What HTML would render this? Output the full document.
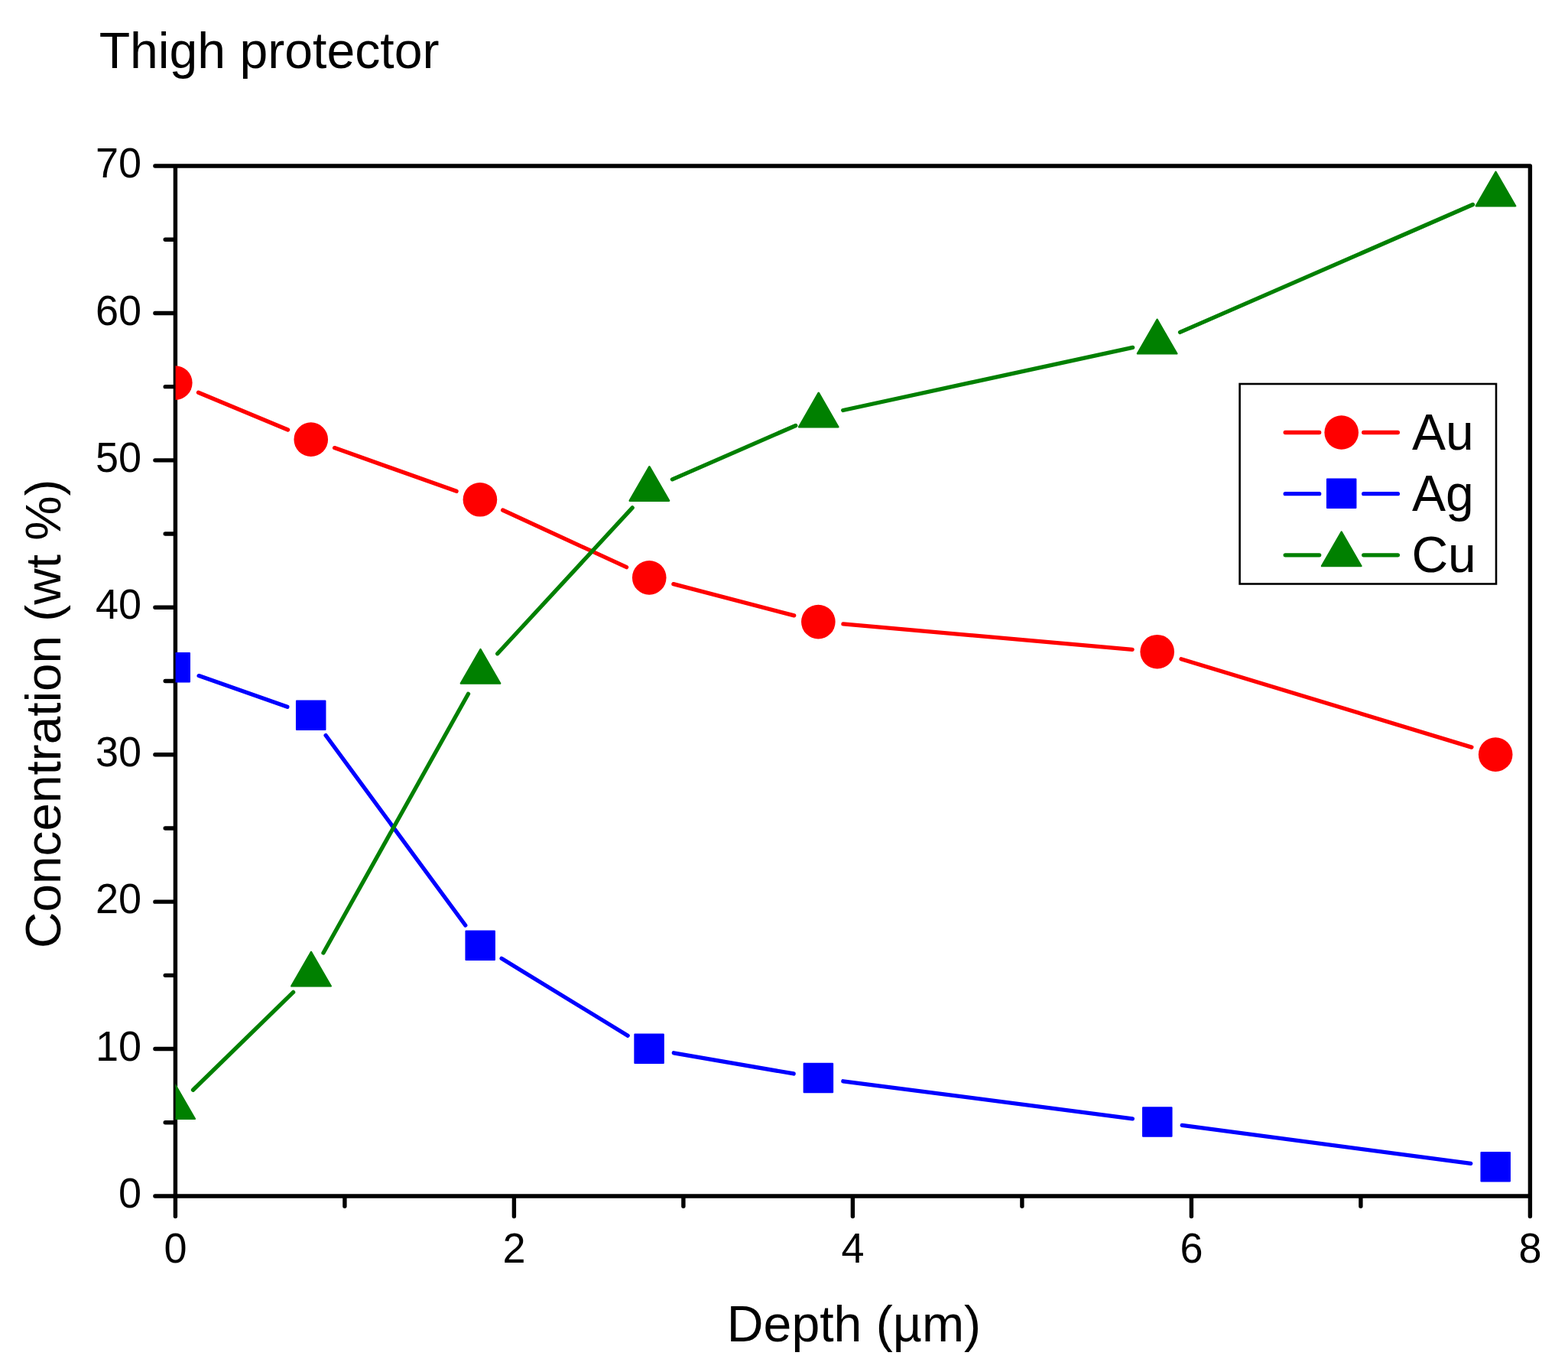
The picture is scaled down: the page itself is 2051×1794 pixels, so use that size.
<!DOCTYPE html>
<html><head><meta charset="utf-8"><title>Thigh protector</title>
<style>
html,body{margin:0;padding:0;background:#fff;}
body{width:2051px;height:1794px;overflow:hidden;}
svg{display:block;}
text{font-family:"Liberation Sans",Arial,sans-serif;fill:#000;}
</style></head><body>
<svg width="2051" height="1794" viewBox="0 0 2051 1794">
<rect width="2051" height="1794" fill="#fff"/>
<defs><clipPath id="pc"><rect x="229.60" y="177.0" width="1812.00" height="1427.0"/></clipPath></defs>
<text x="129.7" y="89.1" font-size="66.15">Thigh protector</text>
<path d="M202.90 217.00L2001.40 217.00L2001.40 1590.50M229.40 217.00L229.40 1590.50M202.90 1564.00L2001.40 1564.00M202.90 1371.57L229.40 1371.57M202.90 1179.14L229.40 1179.14M202.90 986.71L229.40 986.71M202.90 794.29L229.40 794.29M202.90 601.86L229.40 601.86M202.90 409.43L229.40 409.43M216.20 1467.79L229.40 1467.79M216.20 1275.36L229.40 1275.36M216.20 1082.93L229.40 1082.93M216.20 890.50L229.40 890.50M216.20 698.07L229.40 698.07M216.20 505.64L229.40 505.64M216.20 313.21L229.40 313.21M672.40 1564.00L672.40 1590.50M1115.40 1564.00L1115.40 1590.50M1558.40 1564.00L1558.40 1590.50M450.90 1564.00L450.90 1577.20M893.90 1564.00L893.90 1577.20M1336.90 1564.00L1336.90 1577.20M1779.90 1564.00L1779.90 1577.20" fill="none" stroke="#000" stroke-width="5.4" stroke-linecap="round" stroke-linejoin="round"/>
<text transform="translate(185.1 1579.20) scale(1 1.028)" font-size="54" text-anchor="end">0</text>
<text transform="translate(185.1 1386.77) scale(1 1.028)" font-size="54" text-anchor="end">10</text>
<text transform="translate(185.1 1194.34) scale(1 1.028)" font-size="54" text-anchor="end">20</text>
<text transform="translate(185.1 1001.91) scale(1 1.028)" font-size="54" text-anchor="end">30</text>
<text transform="translate(185.1 809.49) scale(1 1.028)" font-size="54" text-anchor="end">40</text>
<text transform="translate(185.1 617.06) scale(1 1.028)" font-size="54" text-anchor="end">50</text>
<text transform="translate(185.1 424.63) scale(1 1.028)" font-size="54" text-anchor="end">60</text>
<text transform="translate(185.1 232.20) scale(1 1.028)" font-size="54" text-anchor="end">70</text>
<text transform="translate(229.40 1651.05) scale(1 1.028)" font-size="54" text-anchor="middle">0</text>
<text transform="translate(672.40 1651.05) scale(1 1.028)" font-size="54" text-anchor="middle">2</text>
<text transform="translate(1115.40 1651.05) scale(1 1.028)" font-size="54" text-anchor="middle">4</text>
<text transform="translate(1558.40 1651.05) scale(1 1.028)" font-size="54" text-anchor="middle">6</text>
<text transform="translate(2001.40 1651.05) scale(1 1.028)" font-size="54" text-anchor="middle">8</text>
<text x="950.8" y="1753.5" font-size="66.2">Depth (µm)</text>
<text transform="translate(79.0 1239.9) rotate(-90)" x="0" y="0" font-size="65.7">Concentration (wt %)</text>
<path d="M259.48 513.19L376.57 562.06M437.56 585.61L597.09 642.34M657.60 666.99L819.55 741.66M880.89 763.61L1038.71 804.84M1102.92 815.97L1481.13 849.33M1544.99 861.70L1924.91 977.10" fill="none" stroke="#f00" stroke-width="5.3" stroke-linecap="round"/>
<path d="M260.10 883.61L375.85 924.34M426.08 961.54L608.82 1209.96M656.11 1253.34L821.19 1354.16M881.32 1376.78L1038.18 1403.97M1102.83 1413.76L1481.37 1462.84M1546.22 1471.35L1923.78 1521.40" fill="none" stroke="#00f" stroke-width="5.3" stroke-linecap="round"/>
<path d="M252.51 1425.23L383.59 1297.37M422.97 1246.01L612.53 907.30M650.70 854.76L827.20 663.88M879.38 626.81L1040.77 556.46M1102.71 536.48L1481.64 454.42M1543.58 434.44L1926.52 267.53" fill="none" stroke="#008000" stroke-width="5.3" stroke-linecap="round"/>
<g clip-path="url(#pc)">
<circle cx="229.30" cy="500.60" r="22.3" fill="#f00"/>
<circle cx="406.75" cy="574.65" r="22.3" fill="#f00"/>
<circle cx="627.90" cy="653.30" r="22.3" fill="#f00"/>
<circle cx="849.25" cy="755.35" r="22.3" fill="#f00"/>
<circle cx="1070.35" cy="813.10" r="22.3" fill="#f00"/>
<circle cx="1513.70" cy="852.20" r="22.3" fill="#f00"/>
<circle cx="1956.20" cy="986.60" r="22.3" fill="#f00"/>
<rect x="210.50" y="854.00" width="37.50" height="37.50" fill="#00f" stroke="#00f" stroke-width="2" stroke-linejoin="round"/>
<rect x="387.95" y="916.45" width="37.50" height="37.50" fill="#00f" stroke="#00f" stroke-width="2" stroke-linejoin="round"/>
<rect x="609.45" y="1217.55" width="37.50" height="37.50" fill="#00f" stroke="#00f" stroke-width="2" stroke-linejoin="round"/>
<rect x="830.35" y="1352.45" width="37.50" height="37.50" fill="#00f" stroke="#00f" stroke-width="2" stroke-linejoin="round"/>
<rect x="1051.65" y="1390.80" width="37.50" height="37.50" fill="#00f" stroke="#00f" stroke-width="2" stroke-linejoin="round"/>
<rect x="1495.05" y="1448.30" width="37.50" height="37.50" fill="#00f" stroke="#00f" stroke-width="2" stroke-linejoin="round"/>
<rect x="1937.45" y="1506.95" width="37.50" height="37.50" fill="#00f" stroke="#00f" stroke-width="2" stroke-linejoin="round"/>
<polygon points="229.10,1418.38 254.80,1462.90 203.40,1462.90" fill="#008000" stroke="#008000" stroke-width="2.4" stroke-linejoin="round"/>
<polygon points="407.00,1244.86 432.70,1289.38 381.30,1289.38" fill="#008000" stroke="#008000" stroke-width="2.4" stroke-linejoin="round"/>
<polygon points="628.50,849.09 654.20,893.61 602.80,893.61" fill="#008000" stroke="#008000" stroke-width="2.4" stroke-linejoin="round"/>
<polygon points="849.40,610.19 875.10,654.71 823.70,654.71" fill="#008000" stroke="#008000" stroke-width="2.4" stroke-linejoin="round"/>
<polygon points="1070.75,513.72 1096.45,558.24 1045.05,558.24" fill="#008000" stroke="#008000" stroke-width="2.4" stroke-linejoin="round"/>
<polygon points="1513.60,417.82 1539.30,462.34 1487.90,462.34" fill="#008000" stroke="#008000" stroke-width="2.4" stroke-linejoin="round"/>
<polygon points="1956.50,224.79 1982.20,269.31 1930.80,269.31" fill="#008000" stroke="#008000" stroke-width="2.4" stroke-linejoin="round"/>
</g>
<rect x="1621.6" y="502.0" width="335.4" height="261.5" fill="none" stroke="#000" stroke-width="2.6"/>
<path d="M1681.2 565.5L1725.70 565.5M1783.70 565.5L1828.4 565.5" stroke="#f00" stroke-width="5.3" stroke-linecap="round"/>
<path d="M1681.2 645.7L1725.70 645.7M1783.70 645.7L1828.4 645.7" stroke="#00f" stroke-width="5.3" stroke-linecap="round"/>
<path d="M1681.2 725.8L1725.70 725.8M1783.70 725.8L1828.4 725.8" stroke="#008000" stroke-width="5.3" stroke-linecap="round"/>
<circle cx="1754.7" cy="565.5" r="22.3" fill="#f00"/>
<rect x="1735.95" y="626.55" width="37.50" height="37.50" fill="#00f" stroke="#00f" stroke-width="2" stroke-linejoin="round"/>
<polygon points="1754.70,695.62 1780.40,740.14 1729.00,740.14" fill="#008000" stroke="#008000" stroke-width="2.4" stroke-linejoin="round"/>
<text x="1846.9" y="587.9" font-size="66">Au</text>
<text x="1846.9" y="667.6" font-size="66">Ag</text>
<text x="1846.4" y="748.0" font-size="66">Cu</text>
</svg>
</body></html>
